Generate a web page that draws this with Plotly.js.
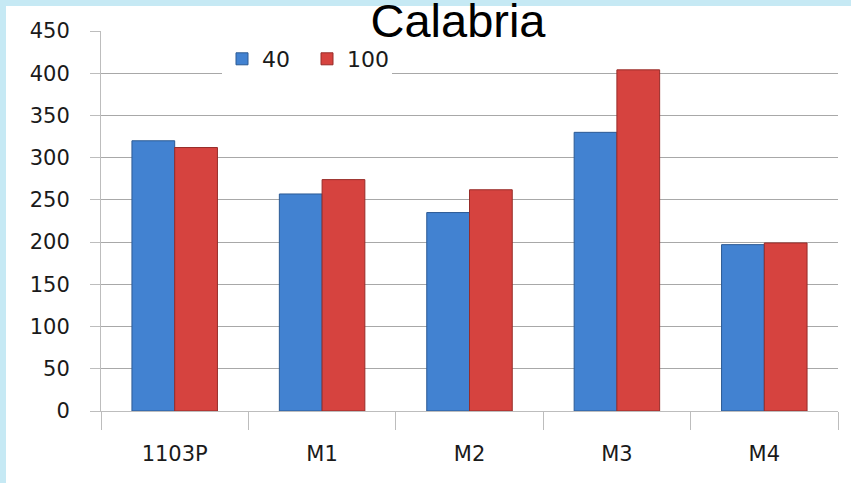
<!DOCTYPE html>
<html>
<head>
<meta charset="utf-8">
<script src="https://cdn.plot.ly/plotly-3.0.1.min.js"></script>
<style>
  html, body { margin: 0; padding: 0; background: #ffffff; }
  #chart { width: 851px; height: 483px; }
</style>
</head>
<body>
<div id="chart"></div>
<script>
const categories = ['1103P', 'M1', 'M2', 'M3', 'M4'];
const seriesNames = ['40', '100'];
const values40 = [320, 257, 235, 330, 197];
const values100 = [312, 274, 262, 404, 199];
const yTicks = [0, 50, 100, 150, 200, 250, 300, 350, 400, 450];

const W = 851, H = 483;
const M = { l: 101, r: 13, t: 31, b: 72 };
const pw = W - M.l - M.r, ph = H - M.t - M.b;
// pixel -> paper helpers for the decorative border strips
const px = x => (x - M.l) / pw;
const py = y => (H - M.b - y) / ph;

const traces = [
  {
    type: 'bar', name: seriesNames[0], x: categories, y: values40,
    marker: { color: '#4282d1', line: { color: '#2c5a94', width: 1 } }
  },
  {
    type: 'bar', name: seriesNames[1], x: categories, y: values100,
    marker: { color: '#d6433f', line: { color: '#972c29', width: 1 } }
  }
];

const tickFont = { family: 'DejaVu Sans', size: 21, color: '#1a1a1a' };

const layout = {
  width: W, height: H,
  margin: M,
  paper_bgcolor: '#ffffff',
  plot_bgcolor: '#ffffff',
  barmode: 'group',
  bargap: 0.42,
  bargroupgap: 0,
  title: {
    text: 'Calabria',
    font: { family: 'Liberation Sans', size: 47, color: '#000000' },
    x: 458 / W, xanchor: 'center',
    y: 1 - 21 / H, yanchor: 'middle', yref: 'container'
  },
  showlegend: true,
  legend: {
    orientation: 'h',
    x: px(222), xanchor: 'left',
    y: py(59), yanchor: 'middle',
    bgcolor: '#ffffff',
    entrywidth: 40, entrywidthmode: 'pixels',
    font: { family: 'DejaVu Sans', size: 22, color: '#1a1a1a' },
    traceorder: 'normal'
  },
  xaxis: {
    type: 'category',
    showline: true, linecolor: '#bdbdbd', linewidth: 1,
    ticks: 'outside', tickson: 'boundaries', ticklen: 18, tickcolor: '#bdbdbd',
    showgrid: false, zeroline: false,
    tickfont: { family: 'DejaVu Sans', size: 21, color: '#1a1a1a' },
    ticklabelstandoff: 24
  },
  yaxis: {
    range: [0, 450],
    tickvals: yTicks,
    ticktext: yTicks.map(String),
    showline: true, linecolor: '#bdbdbd', linewidth: 1,
    ticks: 'outside', ticklen: 10, tickcolor: '#bdbdbd',
    showgrid: true, gridcolor: '#a8a8a8', gridwidth: 1,
    zeroline: false,
    tickfont: tickFont,
    ticklabelstandoff: 16
  },
  shapes: [
    { type: 'rect', xref: 'paper', yref: 'paper', layer: 'above',
      x0: px(0), x1: px(W), y0: py(6), y1: py(0),
      fillcolor: '#c6e9f4', line: { width: 0 } },
    { type: 'rect', xref: 'paper', yref: 'paper', layer: 'above',
      x0: px(0), x1: px(6), y0: py(H), y1: py(0),
      fillcolor: '#c6e9f4', line: { width: 0 } }
  ]
};

Plotly.newPlot('chart', traces, layout, { displayModeBar: false, staticPlot: true });
</script>
</body>
</html>
